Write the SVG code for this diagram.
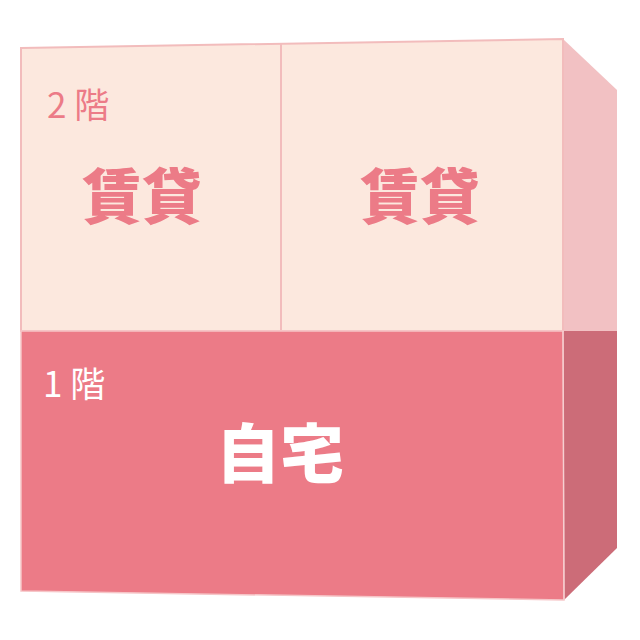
<svg xmlns="http://www.w3.org/2000/svg" width="640" height="640" viewBox="0 0 640 640">
<style>
.lbl{font-family:"Noto Sans CJK JP","Noto Sans",sans-serif;font-size:35px;}
.big{font-family:"Noto Sans CJK JP","Noto Sans",sans-serif;font-weight:900;text-anchor:middle;}
</style>
<rect width="640" height="640" fill="#ffffff"/>
<g id="side">
<polygon points="563,39 617,90 617,331 563,331" fill="#f2c1c3"/>
<polygon points="563,331 617,331 617,548 564,600" fill="#cc6c78"/>
</g>
<g id="floor2">
<polygon points="21,48 563,39 563,331 21,331" fill="#fce8de" stroke="#f2bcbc" stroke-width="2"/>
<line x1="281" y1="44" x2="281" y2="331" stroke="#f2bcbc" stroke-width="2"/>
<text class="lbl" x="47" y="118" fill="#ec7b87">2 階</text>
</g>
<g id="rent1">
<text class="big" x="142" y="219" font-size="60" fill="#ec7b87">賃貸</text>
</g>
<g id="rent2">
<text class="big" x="420" y="219" font-size="60" fill="#ec7b87">賃貸</text>
</g>
<g id="floor1">
<polygon points="21,331 563,331 564,600 21,591" fill="#ec7b87" stroke="#f6c6c8" stroke-width="1.5"/>
<line x1="563" y1="331" x2="564" y2="600" stroke="#f6d0d2" stroke-width="1"/>
<text class="lbl" x="43" y="397" fill="#ffffff">1 階</text>
</g>
<g id="home">
<text class="big" x="280" y="477" font-size="64" fill="#ffffff">自宅</text>
</g>
<g id="connectors"></g>
</svg>
